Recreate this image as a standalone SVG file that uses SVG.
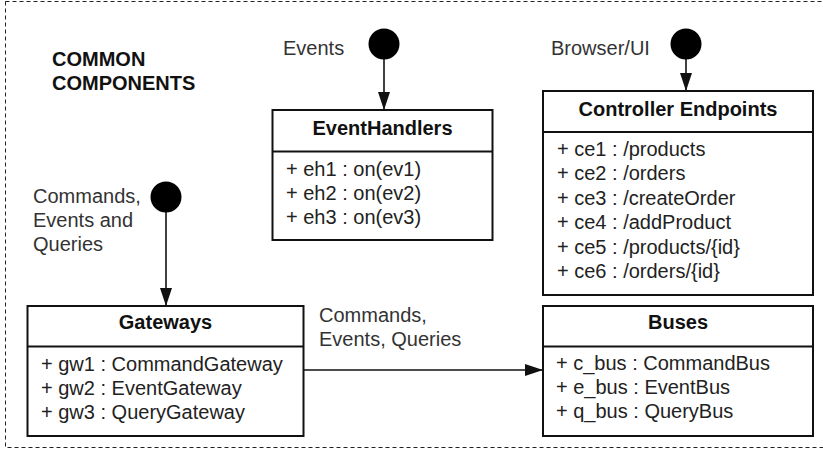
<svg xmlns="http://www.w3.org/2000/svg" width="823" height="452" viewBox="0 0 823 452">
<style>
text{font-family:"Liberation Sans",Arial,sans-serif;font-size:20px;fill:#222}
.title{font-weight:bold;text-anchor:middle;fill:#111}
.head{font-weight:bold;fill:#111}
.lbl{fill:#333}
.box{fill:#fff;stroke:#111;stroke-width:2}
.div{stroke:#111;stroke-width:2}
.conn{stroke:#111;stroke-width:1.6;fill:none}
.dot{fill:#000}
</style>
<defs>
<marker id="arr" markerUnits="userSpaceOnUse" markerWidth="18" markerHeight="12" refX="18" refY="6" orient="auto">
<path d="M0,0 L18,6 L0,12 z" fill="#111"/>
</marker>
</defs>
<rect x="5.5" y="1.5" width="830" height="446" fill="none" stroke="#222" stroke-width="1" stroke-dasharray="4 3"/>
<g id="title">
<text class="head" x="52" y="66">COMMON</text>
<text class="head" x="52" y="90">COMPONENTS</text>
</g>
<g id="connectors">
<line class="conn" x1="384" y1="58" x2="384" y2="110" marker-end="url(#arr)"/>
<line class="conn" x1="686" y1="58" x2="686" y2="91" marker-end="url(#arr)"/>
<line class="conn" x1="166" y1="211" x2="166" y2="306" marker-end="url(#arr)"/>
<line class="conn" x1="303" y1="370" x2="543" y2="370" marker-end="url(#arr)"/>
<text class="lbl" x="319" y="322">Commands,</text>
<text class="lbl" x="319" y="346">Events, Queries</text>
</g>
<g id="src-events">
<circle class="dot" cx="384" cy="44" r="15.5"/>
<text class="lbl" x="283" y="55">Events</text>
</g>
<g id="src-browser">
<circle class="dot" cx="686" cy="44" r="15.5"/>
<text class="lbl" x="551" y="55">Browser/UI</text>
</g>
<g id="src-cqe">
<circle class="dot" cx="166" cy="197" r="15.5"/>
<text class="lbl" x="33" y="203">Commands,</text>
<text class="lbl" x="33" y="227">Events and</text>
<text class="lbl" x="33" y="251">Queries</text>
</g>
<g id="eventhandlers">
<rect class="box" x="272.5" y="110" width="220" height="130"/>
<line class="div" x1="272.5" y1="151.5" x2="492.5" y2="151.5"/>
<text class="title" x="382.5" y="135">EventHandlers</text>
<text x="286" y="176">+ eh1 : on(ev1)</text>
<text x="286" y="200">+ eh2 : on(ev2)</text>
<text x="286" y="224">+ eh3 : on(ev3)</text>
</g>
<g id="controller">
<rect class="box" x="543" y="91" width="270" height="204"/>
<line class="div" x1="543" y1="132" x2="813" y2="132"/>
<text class="title" x="678" y="116">Controller Endpoints</text>
<text x="557" y="156">+ ce1 : /products</text>
<text x="557" y="180.4">+ ce2 : /orders</text>
<text x="557" y="204.8">+ ce3 : /createOrder</text>
<text x="557" y="229.2">+ ce4 : /addProduct</text>
<text x="557" y="253.6">+ ce5 : /products/{id}</text>
<text x="557" y="278">+ ce6 : /orders/{id}</text>
</g>
<g id="gateways">
<rect class="box" x="27.5" y="306" width="276" height="130"/>
<line class="div" x1="27.5" y1="346.5" x2="303.5" y2="346.5"/>
<text class="title" x="165.5" y="329">Gateways</text>
<text x="41" y="371">+ gw1 : CommandGateway</text>
<text x="41" y="395">+ gw2 : EventGateway</text>
<text x="41" y="419">+ gw3 : QueryGateway</text>
</g>
<g id="buses">
<rect class="box" x="543" y="306" width="270" height="130"/>
<line class="div" x1="543" y1="346.5" x2="813" y2="346.5"/>
<text class="title" x="678" y="329">Buses</text>
<text x="556" y="370">+ c_bus : CommandBus</text>
<text x="556" y="394">+ e_bus : EventBus</text>
<text x="556" y="418">+ q_bus : QueryBus</text>
</g>
</svg>
